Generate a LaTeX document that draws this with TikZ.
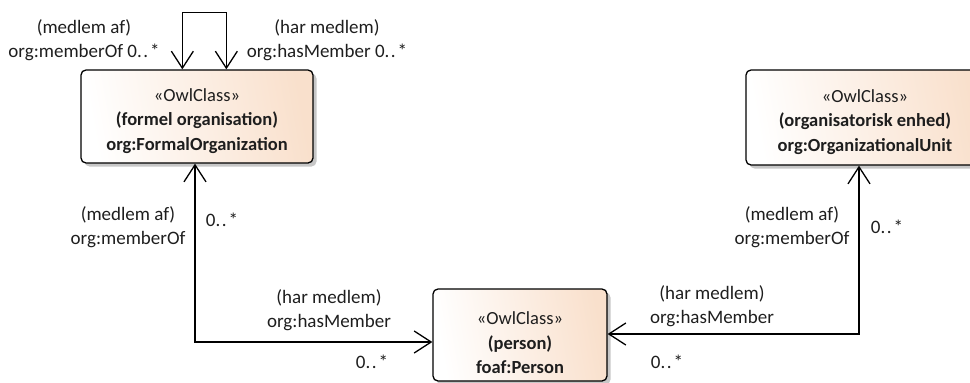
\documentclass[tikz,border=0pt]{standalone}
\usepackage{fontspec}
\setmainfont{Carlito}
\usetikzlibrary{arrows.meta,shadows,calc}
\definecolor{peach}{RGB}{249,224,204}
\definecolor{txt}{RGB}{30,30,30}
\newcommand{\mult}{0.\kern1.5pt.\kern2pt*}
\tikzset{
  owlbox/.style={draw=black, line width=1.3pt, rounded corners=5pt,
    left color=white, right color=peach, shading angle=100,
    drop shadow={shadow xshift=3.5pt, shadow yshift=-3.5pt, fill=black!22, opacity=1},
    inner sep=0pt},
  owltext/.style={font=\fontsize{18.5}{24.5}\selectfont, text=txt, align=center, inner sep=0pt},
  assoc/.style={line width=1.3pt, {Straight Barb[length=17pt,width=22pt,line width=1.3pt]}-{Straight Barb[length=17pt,width=22pt,line width=1.3pt]}},
  lbl/.style={font=\fontsize{19}{24}\selectfont, text=txt, align=center, inner sep=0pt}
}
\begin{document}
\begin{tikzpicture}[x=1pt,y=-1pt]
\useasboundingbox (0,0) rectangle (970,383);
% classes
\node[owlbox, minimum width=232pt, minimum height=93pt] (fo) at (197,116.5) {};
\node[owltext] (fot) at (197,121)
  {«OwlClass»\\\textbf{(formel organisation)}\\\textbf{org:FormalOrganization}};
\node[owlbox, minimum width=238pt, minimum height=95pt] (ou) at (865,117.5) {};
\node[owltext] (out) at (865,122)
  {«OwlClass»\\\textbf{(organisatorisk enhed)}\\\textbf{org:OrganizationalUnit}};
\node[owlbox, minimum width=174pt, minimum height=92pt] (pe) at (520,335) {};
\node[owltext] (pet) at (520,343)
  {«OwlClass»\\\textbf{(person)}\\\textbf{foaf:Person}};
% self association
\coordinate (sa) at ($(fo.north west)+(102,0)$);
\coordinate (sb) at ($(fo.north west)+(146,0)$);
\draw[assoc] (sa) -- ++(0,-57) -| (sb);
% formal organization -- person
\draw[assoc] (fo.south west -| 195,0) |- (pe.west |- 0,342);
% organizational unit -- person
\draw[assoc] (ou.south west -| 859,0) |- (pe.east |- 0,334);
% labels
\node[lbl] (l1) at (84,40) {(medlem af)\\org:memberOf \mult};
\node[lbl] (l2) at (327,40) {(har medlem)\\org:hasMember \mult};
\node[lbl] (l3) at (128,227) {(medlem af)\\org:memberOf};
\node[lbl] (l4) at (222,220) {\mult};
\node[lbl] (l5) at (329,310) {(har medlem)\\org:hasMember};
\node[lbl] (l6) at (372,362) {\mult};
\node[lbl] (l7) at (792,227) {(medlem af)\\org:memberOf};
\node[lbl] (l8) at (887,227) {\mult};
\node[lbl] (l9) at (712,306) {(har medlem)\\org:hasMember};
\node[lbl] (l10) at (667,362) {\mult};
\end{tikzpicture}
\end{document}
